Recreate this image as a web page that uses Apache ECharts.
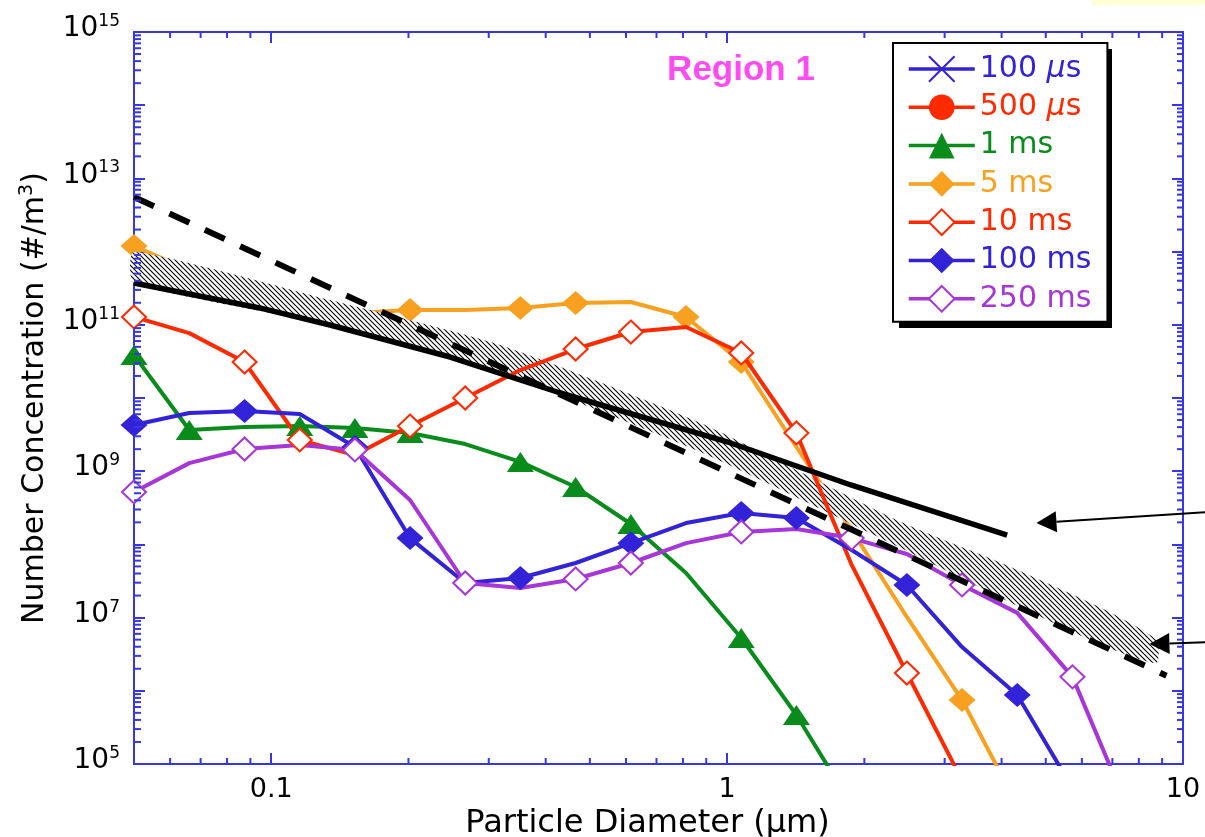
<!DOCTYPE html>
<html>
<head>
<meta charset="utf-8">
<script src="https://cdn.jsdelivr.net/npm/echarts@6/dist/echarts.min.js"></script>
<style>html,body{margin:0;padding:0;background:#fff}#c{width:1205px;height:837px}</style>
</head>
<body>
<div id="c"></div>
<script>
// ---------- data ----------
const diameters = [0.05, 0.0661, 0.0874, 0.1155, 0.1526, 0.2016, 0.2664, 0.352, 0.4653, 0.615, 0.8126, 1.074, 1.419, 1.876, 2.479, 3.276, 4.33, 5.722, 7.562];
const seriesNames = ['100 μs', '500 μs', '1 ms', '5 ms', '10 ms', '100 ms', '250 ms'];
const conc100us = [];
const conc500us = [];
const conc1ms = [3.87e10, 3.66e9, 4.02e9, 4.14e9, 3.89e9, 3.33e9, 2.35e9, 1.34e9, 6.09e8, 1.90e8, 4.06e7, 5.26e6, 4.67e5, 2.75e4];
const conc5ms = [1.19e12, 5.6e11, 2.99e11, 1.36e11, 1.45e11, 1.59e11, 1.59e11, 1.70e11, 1.99e11, 2.05e11, 1.28e11, 3.1e10, 2.14e9, 1.57e8, 1.02e7, 7.48e5, 2.75e4];
const conc10ms = [1.28e11, 7.7e10, 3.1e10, 2.67e9, 1.66e9, 4.14e9, 1.0e10, 2.41e10, 4.67e10, 7.97e10, 9.33e10, 4.12e10, 3.33e9, 5.24e7, 1.75e6, 6.0e4];
const conc100ms = [4.28e9, 6.24e9, 6.64e9, 6.04e9, 2.14e9, 1.22e8, 2.97e7, 3.48e7, 5.57e7, 1.04e8, 1.96e8, 2.69e8, 2.29e8, 8.38e7, 2.79e7, 3.96e6, 8.77e5, 4.7e4];
const conc250ms = [5.2e8, 1.29e9, 2.01e9, 2.28e9, 1.95e9, 4.04e8, 2.97e7, 2.54e7, 3.37e7, 5.57e7, 1.04e8, 1.48e8, 1.62e8, 1.22e8, 7.4e7, 2.79e7, 1.16e7, 1.55e6, 2.5e4];
// indices of the points that carry a marker
const marks1ms = [0, 1, 3, 4, 5, 7, 8, 9, 11, 12];
const marks5ms = [0, 5, 7, 8, 10, 11, 15];
const marks10ms = [0, 2, 3, 5, 6, 8, 9, 11, 12, 14];
const marks100ms = [0, 2, 4, 5, 7, 9, 11, 12, 14, 16];
const marks250ms = [0, 2, 4, 6, 8, 9, 11, 13, 15, 17];
// reference lines
const dashedX = [0.05, 9.2];
const dashedY = [5.57e12, 1.61e6];
const solidX = [0.05, 0.0943, 0.1345, 0.2469, 0.4306, 1.018, 1.868, 4.114];
const solidY = [3.72e11, 1.70e11, 9.94e10, 3.63e10, 1.17e10, 2.43e9, 6.48e8, 1.34e8];
// hatched band
const bandX = [0.05, 0.1345, 0.3178, 0.8746, 2.406, 3.992, 6.622, 8.747];
const bandUpper = [9.88e11, 2.18e11, 5.30e10, 4.55e9, 2.02e8, 5.57e7, 1.35e7, 4.94e6];
const bandLower = [3.72e11, 9.94e10, 2.20e10, 1.83e9, 8.93e7, 1.85e7, 4.23e6, 2.40e6];
// annotation arrows (tail outside the frame, tip inside)
const arrowTails = [[11.85, 2.82e8], [11.85, 4.64e6]];
const arrowTips = [[4.77, 1.96e8], [8.44, 4.36e6]];
// axis tick labels
const xTickLabels = ['0.1', '1', '10'];
const xTickValues = [0.1, 1, 10];
const yLabelExponents = [5, 7, 9, 11, 13, 15];
const xMinorTicks = [0.06, 0.07, 0.08, 0.09, 0.2, 0.3, 0.4, 0.5, 0.6, 0.7, 0.8, 0.9, 2, 3, 4, 5, 6, 7, 8, 9];
const yDecades = [5, 6, 7, 8, 9, 10, 11, 12, 13, 14];
const yMinorMultipliers = [2, 3, 4, 5, 6, 7, 8, 9];

// ---------- styles ----------
const FONT = 'DejaVu Sans';
const AXIS_BLUE = '#3636e2';
const C_BLUE = '#3222d8';
const C_RED = '#ff2a00';
const C_GREEN = '#0a8c1c';
const C_ORANGE = '#f8a020';
const C_PURPLE = '#a636d8';
const colors = [C_BLUE, C_RED, C_GREEN, C_ORANGE, C_RED, C_BLUE, C_PURPLE];
const LINE_W = 4;

function hatchCanvas() {
  const s = 5;
  const cv = document.createElement('canvas');
  cv.width = s; cv.height = s;
  const ctx = cv.getContext('2d');
  ctx.fillStyle = '#fff';
  ctx.fillRect(0, 0, s, s);
  ctx.strokeStyle = '#000';
  ctx.lineWidth = 1.1;
  ctx.beginPath();
  ctx.moveTo(-1, -1); ctx.lineTo(s + 1, s + 1);
  ctx.moveTo(-1, s - 1); ctx.lineTo(1, s + 1);
  ctx.moveTo(s - 1, -1); ctx.lineTo(s + 1, 1);
  ctx.stroke();
  return cv;
}
const hatch = hatchCanvas();

function lineSeries(name, values, marks, color, symbol, size, z, extraItem) {
  return {
    type: 'line', name: name, z: z,
    data: values.map((v, i) => ({ value: [diameters[i], v], symbol: marks.indexOf(i) >= 0 ? symbol : 'none' })),
    symbol: symbol, symbolSize: size, showSymbol: true, showAllSymbol: true,
    lineStyle: { color: color, width: LINE_W },
    itemStyle: Object.assign({ color: color }, extraItem || {}),
    clip: true, silent: true
  };
}

function fmtX(v) {
  for (let i = 0; i < xTickValues.length; i++) {
    if (Math.abs(v - xTickValues[i]) / xTickValues[i] < 1e-6) return xTickLabels[i];
  }
  return '';
}
function fmtY(v) {
  const e = Math.round(Math.log10(v));
  if (Math.abs(Math.log10(v) - e) > 1e-6) return '';
  if (yLabelExponents.indexOf(e) < 0) return '';
  return '{b|10}{s|' + e + '}';
}

const axisLineStyle = { lineStyle: { color: AXIS_BLUE, width: 2 } };
const majorTick = { show: true, inside: true, length: 11, lineStyle: { color: AXIS_BLUE, width: 2 } };

const xBase = { type: 'log', logBase: 10, min: 0.05, max: 10, axisLine: axisLineStyle, axisTick: majorTick, splitLine: { show: false }, minorTick: { show: false } };
const yBase = { type: 'log', logBase: 10, min: 1e5, max: 1e15, interval: 1, axisLine: axisLineStyle, axisTick: majorTick, splitLine: { show: false }, minorTick: { show: false } };

const option = {
  animation: false,
  backgroundColor: '#fff',
  grid: { left: 134, right: 22, top: 32, bottom: 73, containLabel: false, outerBoundsMode: 'none' },
  xAxis: [
    Object.assign({}, xBase, {
      position: 'bottom',
      axisLabel: { formatter: fmtX, color: '#000', fontFamily: FONT, fontSize: 27, margin: 12 },
      name: 'Particle Diameter (μm)', nameLocation: 'middle', nameGap: 36,
      nameTextStyle: { color: '#000', fontFamily: FONT, fontSize: 32, padding: [0, 22, 0, 0] }
    }),
    Object.assign({}, xBase, { position: 'top', axisLabel: { show: false } })
  ],
  yAxis: [
    Object.assign({}, yBase, {
      position: 'left',
      axisLabel: {
        formatter: fmtY, margin: 14, padding: [0, 0, 8, 0],
        rich: {
          b: { fontFamily: FONT, fontSize: 28, color: '#000', lineHeight: 30, verticalAlign: 'bottom' },
          s: { fontFamily: FONT, fontSize: 17, color: '#000', lineHeight: 30, verticalAlign: 'top' }
        }
      },
      name: 'Number Concentration (#/m{sup|3})', nameLocation: 'middle', nameGap: 80,
      nameTextStyle: { color: '#000', fontFamily: FONT, fontSize: 30, lineHeight: 34,
        rich: { sup: { fontFamily: FONT, fontSize: 19, color: '#000', verticalAlign: 'top', lineHeight: 34 } } }
    }),
    Object.assign({}, yBase, { position: 'right', axisLabel: { show: false } })
  ],
  legend: {
    orient: 'vertical', left: 893, top: 43,
    padding: [11, 16, 8, 14], itemGap: 8.3, itemWidth: 66, itemHeight: 32,
    backgroundColor: '#fff', borderColor: '#000', borderWidth: 2, borderRadius: 0,
    selectedMode: false,
    lineStyle: { width: 3.5 },
    formatter: n => n.replace('μ', '{i|μ}'),
    textStyle: { fontFamily: FONT, fontSize: 30, lineHeight: 30,
      rich: { i: { fontStyle: 'italic', fontFamily: FONT, fontSize: 30, lineHeight: 30 } } },
    data: seriesNames.map((n, i) => ({ name: n, textStyle: { color: colors[i] } }))
  },
  graphic: [
    { type: 'rect', z: -10, shape: { x: 899, y: 49, width: 213, height: 279 }, style: { fill: '#000' } },
    { type: 'rect', z: 100, shape: { x: 1092, y: 0, width: 113, height: 5 }, style: { fill: '#ffffd6' } },
    { type: 'text', z: 100, style: { x: 741, y: 70, text: 'Region 1', align: 'center', verticalAlign: 'middle',
      font: 'bold 35px "Liberation Sans"', fill: '#ff4cf2' } }
  ],
  series: [
    lineSeries(seriesNames[0], conc100us, [], C_BLUE, 'path://M0,0L10,10M10,0L0,10', 22, 4, { borderColor: C_BLUE, borderWidth: 2.5 }),
    lineSeries(seriesNames[1], conc500us, [], C_RED, 'circle', 22, 4),
    lineSeries(seriesNames[2], conc1ms, marks1ms, C_GREEN, 'triangle', [27, 20], 4),
    lineSeries(seriesNames[3], conc5ms, marks5ms, C_ORANGE, 'diamond', [27, 24], 2),
    lineSeries(seriesNames[4], conc10ms, marks10ms, C_RED, 'emptyDiamond', [24, 23], 4, { borderWidth: 2 }),
    lineSeries(seriesNames[5], conc100ms, marks100ms, C_BLUE, 'diamond', [27, 24], 4),
    lineSeries(seriesNames[6], conc250ms, marks250ms, C_PURPLE, 'emptyDiamond', [24, 23], 4, { borderWidth: 2 }),
    {
      type: 'custom', name: 'band', coordinateSystem: 'cartesian2d', z: 3, silent: true, clip: false,
      data: [[bandX[0], bandUpper[0]]],
      renderItem: function (params, api) {
        const pts = [];
        for (let i = 0; i < bandX.length; i++) pts.push(api.coord([bandX[i], bandUpper[i]]));
        for (let i = bandX.length - 1; i >= 0; i--) pts.push(api.coord([bandX[i], bandLower[i]]));
        return { type: 'polygon', shape: { points: pts, smooth: 0.2 }, style: { fill: { image: hatch, repeat: 'repeat' } } };
      }
    },
    {
      type: 'line', name: 'dashed', z: 5, silent: true, symbol: 'none',
      data: dashedX.map((x, i) => [x, dashedY[i]]),
      lineStyle: { color: '#000', width: 6, type: [22, 17], cap: 'butt' }
    },
    {
      type: 'line', name: 'solid', z: 5, silent: true, symbol: 'none',
      data: solidX.map((x, i) => [x, solidY[i]]),
      lineStyle: { color: '#000', width: 5.5 }
    },
    {
      type: 'custom', name: 'arrows', coordinateSystem: 'cartesian2d', z: 6, silent: true, clip: false,
      data: arrowTips,
      renderItem: function (params, api) {
        const i = params.dataIndex;
        const a = api.coord(arrowTails[i]);
        const b = api.coord(arrowTips[i]);
        const ang = Math.atan2(b[1] - a[1], b[0] - a[0]);
        const L = 20, W = 10.5;
        const base = [b[0] - L * Math.cos(ang), b[1] - L * Math.sin(ang)];
        const p1 = [base[0] + W * Math.sin(ang), base[1] - W * Math.cos(ang)];
        const p2 = [base[0] - W * Math.sin(ang), base[1] + W * Math.cos(ang)];
        return { type: 'group', children: [
          { type: 'line', shape: { x1: a[0], y1: a[1], x2: base[0], y2: base[1] }, style: { stroke: '#000', lineWidth: 2 } },
          { type: 'polygon', shape: { points: [b, p1, p2] }, style: { fill: '#000' } }
        ] };
      }
    },
    {
      type: 'custom', name: 'minorTicks', coordinateSystem: 'cartesian2d', z: 6, silent: true, clip: false,
      data: [[0.05, 1e5]],
      renderItem: function (params, api) {
        const bl = api.coord([0.05, 1e5]);
        const tr = api.coord([10, 1e15]);
        const left = bl[0], bottom = bl[1], right = tr[0], top = tr[1];
        const st = { stroke: AXIS_BLUE, lineWidth: 2 };
        const ch = [];
        xMinorTicks.forEach(v => {
          const px = api.coord([v, 1e5])[0];
          ch.push({ type: 'line', shape: { x1: px, y1: bottom, x2: px, y2: bottom - 6 }, style: st });
          ch.push({ type: 'line', shape: { x1: px, y1: top, x2: px, y2: top + 6 }, style: st });
        });
        yDecades.forEach(e => {
          yMinorMultipliers.forEach(k => {
            const py = api.coord([0.05, k * Math.pow(10, e)])[1];
            ch.push({ type: 'line', shape: { x1: left, y1: py, x2: left + 7, y2: py }, style: st });
            ch.push({ type: 'line', shape: { x1: right, y1: py, x2: right - 6, y2: py }, style: st });
          });
        });
        return { type: 'group', children: ch };
      }
    }
  ]
};

const chart = echarts.init(document.getElementById('c'), null, { renderer: 'canvas' });
chart.setOption(option);
</script>
</body>
</html>
